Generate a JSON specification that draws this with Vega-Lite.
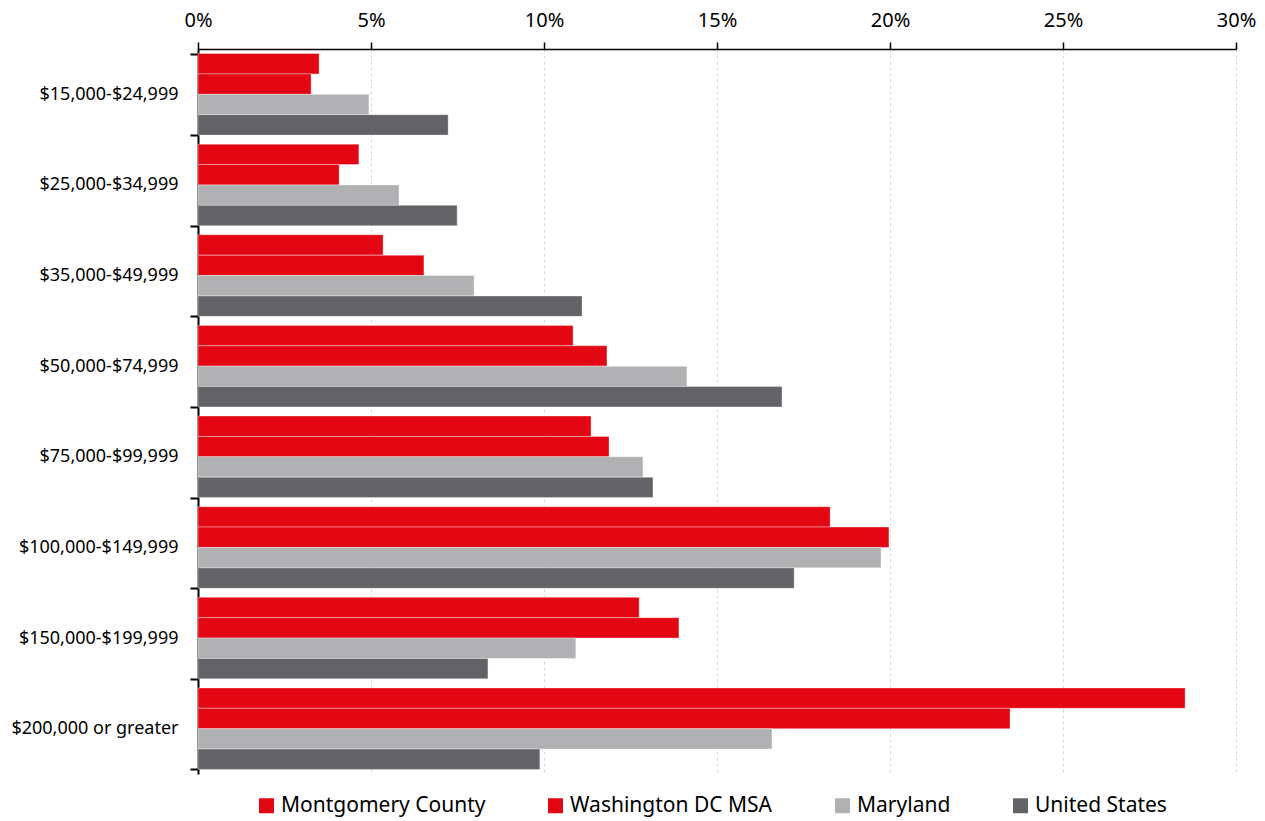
{
  "$schema": "https://vega.github.io/schema/vega-lite/v6.json",
  "width": 1038,
  "height": 725,
  "autosize": {"type": "none"},
  "padding": {"left": 198, "top": 49, "right": 29, "bottom": 47},
  "background": "white",
  "config": {
    "view": {"stroke": null},
    "font": "Noto Sans"
  },
  "data": {
    "values": [
      {"income": "$15,000-$24,999", "series": "Montgomery County", "value": 3.5},
      {"income": "$15,000-$24,999", "series": "Washington DC MSA", "value": 3.27},
      {"income": "$15,000-$24,999", "series": "Maryland", "value": 4.94},
      {"income": "$15,000-$24,999", "series": "United States", "value": 7.23},
      {"income": "$25,000-$34,999", "series": "Montgomery County", "value": 4.65},
      {"income": "$25,000-$34,999", "series": "Washington DC MSA", "value": 4.08},
      {"income": "$25,000-$34,999", "series": "Maryland", "value": 5.81},
      {"income": "$25,000-$34,999", "series": "United States", "value": 7.49},
      {"income": "$35,000-$49,999", "series": "Montgomery County", "value": 5.35},
      {"income": "$35,000-$49,999", "series": "Washington DC MSA", "value": 6.53},
      {"income": "$35,000-$49,999", "series": "Maryland", "value": 7.98},
      {"income": "$35,000-$49,999", "series": "United States", "value": 11.1},
      {"income": "$50,000-$74,999", "series": "Montgomery County", "value": 10.84},
      {"income": "$50,000-$74,999", "series": "Washington DC MSA", "value": 11.82},
      {"income": "$50,000-$74,999", "series": "Maryland", "value": 14.13},
      {"income": "$50,000-$74,999", "series": "United States", "value": 16.88},
      {"income": "$75,000-$99,999", "series": "Montgomery County", "value": 11.36},
      {"income": "$75,000-$99,999", "series": "Washington DC MSA", "value": 11.88},
      {"income": "$75,000-$99,999", "series": "Maryland", "value": 12.86},
      {"income": "$75,000-$99,999", "series": "United States", "value": 13.15},
      {"income": "$100,000-$149,999", "series": "Montgomery County", "value": 18.27},
      {"income": "$100,000-$149,999", "series": "Washington DC MSA", "value": 19.97},
      {"income": "$100,000-$149,999", "series": "Maryland", "value": 19.74},
      {"income": "$100,000-$149,999", "series": "United States", "value": 17.23},
      {"income": "$150,000-$199,999", "series": "Montgomery County", "value": 12.75},
      {"income": "$150,000-$199,999", "series": "Washington DC MSA", "value": 13.9},
      {"income": "$150,000-$199,999", "series": "Maryland", "value": 10.92},
      {"income": "$150,000-$199,999", "series": "United States", "value": 8.38},
      {"income": "$200,000 or greater", "series": "Montgomery County", "value": 28.53},
      {"income": "$200,000 or greater", "series": "Washington DC MSA", "value": 23.47},
      {"income": "$200,000 or greater", "series": "Maryland", "value": 16.59},
      {"income": "$200,000 or greater", "series": "United States", "value": 9.88}
    ]
  },
  "mark": {"type": "bar", "stroke": "#ffffff", "strokeWidth": 0.6, "strokeOpacity": 0.6},
  "encoding": {
    "y": {
      "field": "income",
      "type": "nominal",
      "sort": null,
      "scale": {"paddingInner": 0.1, "paddingOuter": 0.05},
      "axis": {
        "title": null,
        "tickBand": "extent",
        "domainColor": "#000000",
        "domainWidth": 2,
        "tickColor": "#000000",
        "tickWidth": 2,
        "tickSize": 8,
        "labelFontSize": 18,
        "labelColor": "#000000",
        "labelPadding": 12,
        "labelLimit": 300,
        "grid": false
      }
    },
    "yOffset": {
      "field": "series",
      "type": "nominal",
      "sort": ["Montgomery County", "Washington DC MSA", "Maryland", "United States"],
      "scale": {"paddingInner": 0, "paddingOuter": 0}
    },
    "x": {
      "field": "value",
      "type": "quantitative",
      "scale": {"domain": [0, 30], "nice": false},
      "axis": {
        "orient": "top",
        "title": null,
        "values": [0, 5, 10, 15, 20, 25, 30],
        "labelExpr": "datum.value + '%'",
        "labelFontSize": 20,
        "labelColor": "#000000",
        "labelPadding": 12,
        "labelFlush": false,
        "domainColor": "#000000",
        "domainWidth": 1.5,
        "tickColor": "#000000",
        "tickWidth": 1.5,
        "tickSize": 7,
        "grid": true,
        "gridColor": "#d9d9d9",
        "gridDash": [3, 3],
        "gridWidth": 1
      }
    },
    "color": {
      "field": "series",
      "type": "nominal",
      "scale": {
        "domain": ["Montgomery County", "Washington DC MSA", "Maryland", "United States"],
        "range": ["#e30613", "#e30613", "#b1b1b3", "#636367"]
      },
      "legend": {
        "title": null,
        "orient": "none",
        "direction": "horizontal",
        "legendX": 58,
        "legendY": 746,
        "symbolType": "square",
        "symbolSize": 225,
        "symbolStrokeWidth": 0,
        "labelFontSize": 21,
        "labelColor": "#000000",
        "labelOffset": 4,
        "labelLimit": 400,
        "columnPadding": 59
      }
    }
  }
}
